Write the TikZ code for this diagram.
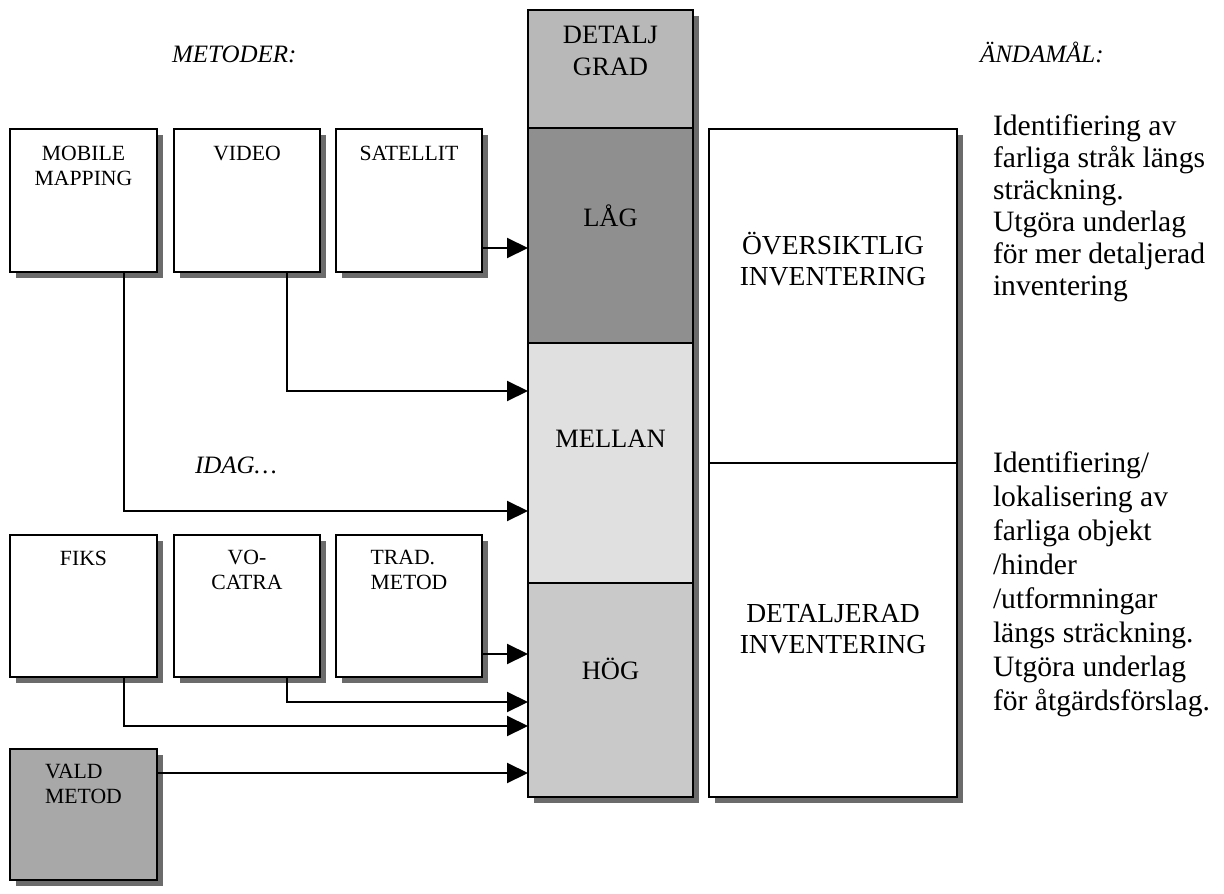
\documentclass[tikz,border=0pt]{standalone}
\usepackage{fontspec}
\setmainfont{Liberation Serif}
\usetikzlibrary{arrows.meta}
\definecolor{detaljc}{gray}{0.72}
\definecolor{lagc}{gray}{0.56}
\definecolor{mellanc}{gray}{0.88}
\definecolor{hogc}{gray}{0.79}
\definecolor{valdc}{gray}{0.66}
\definecolor{shadc}{gray}{0.42}
\newcommand\mybox[6]{%
  \fill[shadc] (#2+6,#3+6) rectangle (#4+6,#5+6);
  \node[box, fill=#6, minimum width=#4-#2, minimum height=#5-#3] (#1) at (#2,#3) {};
}
\begin{document}
\begin{tikzpicture}[x=1pt,y=-1pt,
  every node/.style={inner sep=0pt, outer sep=0pt},
  box/.style={draw=black, line width=2.1pt, anchor=north west},
  secbox/.style={draw=black, line width=2.1pt, anchor=north west},
  conn/.style={line width=2.1pt, -{Triangle[length=21pt,width=20pt]}},
  boxtxt/.style={font=\fontsize{21.7}{25}\selectfont, align=center, anchor=base},
  coltxt/.style={font=\fontsize{26.5}{31.5}\selectfont, align=center, anchor=base},
  invtxt/.style={font=\fontsize{27.5}{31}\selectfont, align=center, anchor=base},
  headtxt/.style={font=\fontsize{25}{29}\selectfont\itshape, anchor=base west},
  purptxt/.style={align=left, anchor=base west}
]
\useasboundingbox (0,0) rectangle (1224,894);

% left method boxes
\mybox{mob}{10}{129}{157}{272}{white}
\mybox{vid}{174}{129}{320}{272}{white}
\mybox{sat}{336}{129}{482}{272}{white}
\mybox{fiks}{10}{535}{157}{677}{white}
\mybox{voc}{174}{535}{320}{677}{white}
\mybox{trad}{336}{535}{482}{677}{white}
\mybox{vald}{10}{749}{157}{880}{valdc}

% central column
\fill[shadc] (534,16) rectangle (699,803);
\node[secbox, fill=detaljc, minimum width=165, minimum height=118] (detalj) at (528,10) {};
\node[secbox, fill=lagc, minimum width=165, minimum height=215] (lag) at (528,128) {};
\node[secbox, fill=mellanc, minimum width=165, minimum height=240] (mellan) at (528,343) {};
\node[secbox, fill=hogc, minimum width=165, minimum height=214] (hog) at (528,583) {};

% right column
\fill[shadc] (715,135) rectangle (963,803);
\node[secbox, fill=white, minimum width=248, minimum height=334] (overs) at (709,129) {};
\node[secbox, fill=white, minimum width=248, minimum height=334] (detinv) at (709,463) {};

% labels (base = last line)
\node[boxtxt] (tmob) at (83.5,185) {MOBILE\\MAPPING};
\node[boxtxt] (tvid) at (247,160) {VIDEO};
\node[boxtxt] (tsat) at (409,160) {SATELLIT};
\node[boxtxt] (tfiks) at (83.5,565) {FIKS};
\node[boxtxt] (tvoc) at (247,589) {VO-\\CATRA};
\node[boxtxt, align=left] (ttrad) at (409,589) {TRAD.\\METOD};
\node[boxtxt, align=left] (tvald) at (83.5,803) {VALD\\METOD};

\node[coltxt] (tdetalj) at (610.5,75) {DETALJ\\GRAD};
\node[coltxt] (tlag) at (610.5,226) {LÅG};
\node[coltxt] (tmellan) at (610.5,447) {MELLAN};
\node[coltxt] (thog) at (610.5,679) {HÖG};

\node[invtxt] (tovers) at (833,285) {ÖVERSIKTLIG\\INVENTERING};
\node[invtxt] (tdetinv) at (833,653) {DETALJERAD\\INVENTERING};

\node[headtxt] (metoder) at (172,62) {METODER:};
\node[headtxt] (andamal) at (980,62) {ÄNDAMÅL:};
\node[headtxt] (idag) at (195,473) {IDAG\ldots};

\node[purptxt, font=\fontsize{29.6}{32}\selectfont] (purp1) at (993,295)
  {Identifiering av\\farliga stråk längs\\sträckning.\\Utgöra underlag\\för mer detaljerad\\inventering};
\node[purptxt, font=\fontsize{29.6}{33.9}\selectfont] (purp2) at (993,710)
  {Identifiering/\\lokalisering av\\farliga objekt\\/hinder\\/utformningar\\längs sträckning.\\Utgöra underlag\\för åtgärdsförslag.};

% connectors
\coordinate (a1) at ([yshift=-47.5pt]sat.east);
\draw[conn] (a1) -- (a1 -| lag.west);
\draw[conn] ([xshift=40pt]vid.south) |- ([yshift=72pt]mellan.west);
\draw[conn] ([xshift=40.5pt]mob.south) |- ([yshift=-48pt]mellan.west);
\coordinate (a4) at ([yshift=-48pt]trad.east);
\draw[conn] (a4) -- (a4 -| hog.west);
\draw[conn] ([xshift=40pt]voc.south) |- ([yshift=-12pt]hog.west);
\draw[conn] ([xshift=40.5pt]fiks.south) |- ([yshift=-36pt]hog.west);
\coordinate (a7) at ([yshift=41.5pt]vald.east);
\draw[conn] (a7) -- (a7 -| hog.west);
\end{tikzpicture}
\end{document}
